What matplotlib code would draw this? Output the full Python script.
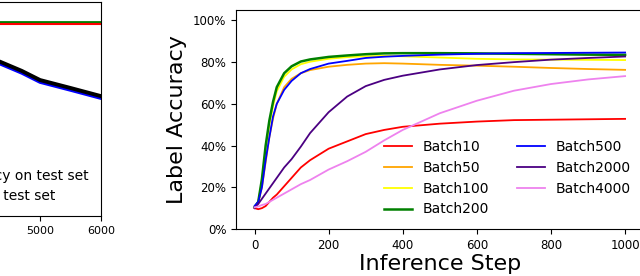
import matplotlib
matplotlib.use('Agg')
from matplotlib import pyplot as plt
from matplotlib.ticker import PercentFormatter

# right panel: label accuracy vs inference step (percent)
steps = [0, 10, 20, 30, 40, 50, 60, 80, 100, 125, 150, 200, 250, 300,
         350, 400, 500, 600, 700, 800, 900, 1000]
batch10 = [10, 9.5, 10, 11, 13, 15, 16.5, 20.5, 24.5, 29.5, 33, 38.5, 42, 45.5,
           47.5, 49, 50.5, 51.5, 52.2, 52.4, 52.6, 52.8]
batch50 = [10.5, 12.5, 20, 32, 44, 53, 60, 68, 72, 74.7, 76.2, 77.8, 78.7, 79.3,
           79.5, 79.3, 78.7, 78.3, 77.8, 77.2, 76.7, 76.3]
batch100 = [10.5, 13, 23, 38, 50, 59, 66, 73, 76.5, 79, 80.2, 81.6, 82.4, 82.8,
            83, 82.8, 82.2, 81.6, 81.3, 81.2, 81.1, 81]
batch200 = [10.5, 13, 24, 40, 52, 61, 68, 74.7, 78, 80.3, 81.3, 82.5, 83.2, 83.8,
            84.2, 84.3, 84.3, 84.2, 84, 83.8, 83.6, 83.5]
batch500 = [11, 13, 20, 33, 44, 54, 60, 66.7, 71, 74.7, 76.7, 79.3, 80.6, 82,
            82.6, 83, 83.6, 84, 84.3, 84.4, 84.5, 84.6]
batch2000 = [10, 12, 14.5, 17, 19.5, 22, 24.5, 29.5, 33.5, 39.5, 46, 56, 63.5, 68.5,
             71.5, 73.5, 76.5, 78.6, 80, 81.2, 82, 82.7]
batch4000 = [10.4, 10.8, 11.5, 12, 13, 14, 15, 17, 19, 21.5, 23.5, 28.5, 32.5, 37,
             42.5, 47.5, 55.5, 61.5, 66.3, 69.5, 71.7, 73.3]

series = [('Batch10', batch10, 'red'), ('Batch50', batch50, 'orange'),
          ('Batch100', batch100, 'yellow'), ('Batch200', batch200, 'green'),
          ('Batch500', batch500, 'blue'), ('Batch2000', batch2000, 'indigo'),
          ('Batch4000', batch4000, 'violet')]

# left panel (cropped): only the visible right end
left_steps = [4000, 4344, 4700, 5000, 5500, 6000]
left_ticks = [5000, 6000]
train_acc = [0.952, 0.952, 0.952, 0.952, 0.952, 0.952]
test_acc = [0.942, 0.942, 0.942, 0.942, 0.942, 0.942]
train_loss = [0.79, 0.757, 0.712, 0.667, 0.628, 0.588]
test_loss = [0.78, 0.747, 0.702, 0.657, 0.618, 0.578]

fig = plt.figure(figsize=(6.4, 2.76), dpi=100)

# left axes sits mostly off the canvas, as in the cropped reference
ax1 = fig.add_axes([-0.414, 0.2174, 0.5719, 0.7754])
ax1.plot(left_steps, train_acc, color='green', lw=2)
ax1.plot(left_steps, test_loss, color='blue', lw=2.5)
ax1.plot(left_steps, test_acc, color='red', lw=1.5, label='Accuracy on test set')
ax1.plot(left_steps, train_loss, color='black', lw=2.8, label='Loss on test set')
ax1.set_xlim(0, 6000)
ax1.set_ylim(0, 1.05)
ax1.set_xticks(left_ticks)
ax1.set_yticks([])
ax1.tick_params(labelsize=8)
ax1.legend(loc='lower right', frameon=False, fontsize=10)

ax2 = fig.add_axes([0.36875, 0.1703, 0.6369, 0.7935])
for name, vals, col in series:
    lw = 1.8 if name == 'Batch200' else 1.3
    ax2.plot(steps, vals, color=col, lw=lw, label=name)
ax2.set_xlim(-50, 1050)
ax2.set_ylim(0, 105)
ax2.set_yticks([0, 20, 40, 60, 80, 100])
ax2.yaxis.set_major_formatter(PercentFormatter(100, decimals=0))
ax2.set_xticks([0, 200, 400, 600, 800, 1000])
ax2.tick_params(labelsize=8.5)
ax2.set_xlabel('Inference Step', fontsize=16, labelpad=2)
ax2.set_ylabel('Label Accuracy', fontsize=16)
ax2.legend(loc='lower right', ncol=2, frameon=False, fontsize=10)

fig.savefig('out.png', dpi=100)
